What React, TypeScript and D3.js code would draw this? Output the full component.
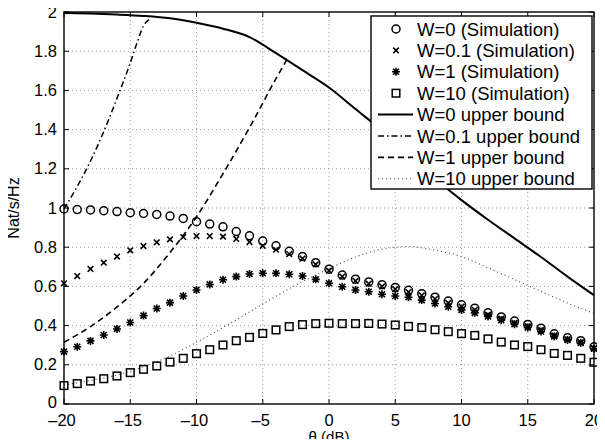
import React, { useEffect, useRef } from 'react';
import * as d3 from 'd3';

// simulation points, one per dB step
const theta = [-20, -19, -18, -17, -16, -15, -14, -13, -12, -11, -10, -9, -8, -7, -6, -5, -4, -3, -2, -1, 0,
  1, 2, 3, 4, 5, 6, 7, 8, 9, 10, 11, 12, 13, 14, 15, 16, 17, 18, 19, 20];

const simW0 = [0.995, 0.992, 0.99, 0.986, 0.982, 0.976, 0.972, 0.967, 0.959, 0.947, 0.93, 0.918, 0.904, 0.88,
  0.858, 0.831, 0.807, 0.779, 0.752, 0.721, 0.688, 0.658, 0.637, 0.623, 0.609, 0.595, 0.58, 0.563, 0.545,
  0.525, 0.506, 0.489, 0.465, 0.444, 0.423, 0.406, 0.387, 0.358, 0.338, 0.323, 0.292];
const simW01 = [0.616, 0.653, 0.689, 0.721, 0.752, 0.784, 0.806, 0.825, 0.84, 0.852, 0.857, 0.857, 0.854,
  0.842, 0.826, 0.807, 0.787, 0.765, 0.742, 0.712, 0.68, 0.65, 0.628, 0.614, 0.6, 0.586, 0.571, 0.554, 0.536,
  0.516, 0.497, 0.48, 0.456, 0.435, 0.414, 0.397, 0.378, 0.35, 0.33, 0.315, 0.285];
const simW1 = [0.267, 0.292, 0.322, 0.352, 0.383, 0.416, 0.451, 0.487, 0.517, 0.551, 0.582, 0.61, 0.634, 0.65,
  0.663, 0.667, 0.667, 0.662, 0.653, 0.636, 0.616, 0.598, 0.582, 0.573, 0.56, 0.551, 0.545, 0.53, 0.513, 0.496,
  0.48, 0.465, 0.447, 0.427, 0.407, 0.39, 0.37, 0.345, 0.327, 0.312, 0.282];
const simW10 = [0.094, 0.104, 0.117, 0.129, 0.143, 0.16, 0.177, 0.194, 0.214, 0.233, 0.257, 0.277, 0.301, 0.323,
  0.34, 0.36, 0.378, 0.395, 0.405, 0.41, 0.412, 0.41, 0.41, 0.411, 0.408, 0.403, 0.396, 0.39, 0.379, 0.369,
  0.359, 0.35, 0.332, 0.316, 0.301, 0.293, 0.277, 0.258, 0.248, 0.233, 0.213];

// upper bound curves
const boundX = [-20, -18, -16, -14, -12, -10, -8, -6, -4, -2, 0, 2, 4, 6, 8, 10, 12, 14, 16, 18, 20];
const boundW0 = [1.995, 1.992, 1.987, 1.98, 1.968, 1.945, 1.915, 1.872, 1.79, 1.703, 1.615, 1.505, 1.395,
  1.275, 1.15, 1.04, 0.94, 0.845, 0.75, 0.65, 0.555];
const boundW10 = [0.097, 0.12, 0.148, 0.19, 0.245, 0.315, 0.39, 0.47, 0.55, 0.625, 0.69, 0.75, 0.79, 0.803,
  0.785, 0.752, 0.695, 0.635, 0.575, 0.515, 0.462];
const boundW01X = [-20, -19, -18, -17, -16, -15, -14.5, -14, -13.6, -13.5];
const boundW01 = [0.995, 1.11, 1.24, 1.39, 1.56, 1.74, 1.84, 1.93, 1.96, 1.965];
const boundW1X = [-20, -18, -16, -14, -12, -10, -8, -6, -4, -3.2];
const boundW1 = [0.315, 0.395, 0.495, 0.615, 0.773, 0.955, 1.175, 1.41, 1.66, 1.755];

const xTicks = [-20, -15, -10, -5, 0, 5, 10, 15, 20];
const yTicks = [0, 0.2, 0.4, 0.6, 0.8, 1, 1.2, 1.4, 1.6, 1.8, 2];

const legendLabels = ['W=0 (Simulation)', 'W=0.1 (Simulation)', 'W=1 (Simulation)', 'W=10 (Simulation)',
  'W=0 upper bound', 'W=0.1 upper bound', 'W=1 upper bound', 'W=10 upper bound'];

const FONT = '"Liberation Sans", Arial, Helvetica, sans-serif';

const drawMarker = (g, type, cx, cy) => {
  if (type === 'circle') {
    g.append('circle').attr('cx', cx).attr('cy', cy).attr('r', 4)
      .attr('fill', 'none').attr('stroke', '#000').attr('stroke-width', 1.5);
  } else if (type === 'cross') {
    g.append('path').attr('d', `M${cx - 2.8},${cy - 2.8}L${cx + 2.8},${cy + 2.8}M${cx - 2.8},${cy + 2.8}L${cx + 2.8},${cy - 2.8}`)
      .attr('stroke', '#000').attr('stroke-width', 1.6);
  } else if (type === 'star') {
    g.append('path').attr('d', `M${cx - 4},${cy}L${cx + 4},${cy}M${cx},${cy - 4}L${cx},${cy + 4}M${cx - 3},${cy - 3}L${cx + 3},${cy + 3}M${cx - 3},${cy + 3}L${cx + 3},${cy - 3}`)
      .attr('stroke', '#000').attr('stroke-width', 1.6);
  } else {
    g.append('rect').attr('x', cx - 3.8).attr('y', cy - 3.8).attr('width', 7.6).attr('height', 7.6)
      .attr('fill', 'none').attr('stroke', '#000').attr('stroke-width', 1.5);
  }
};

const Chart = () => {
  const svgRef = useRef(null);

  useEffect(() => {
    const svg = d3.select(svgRef.current);
    svg.selectAll('*').remove();

    const left = 64, right = 594, top = 12, bottom = 404;
    const x = d3.scaleLinear().domain([-20, 20]).range([left, right]);
    const y = d3.scaleLinear().domain([0, 2]).range([bottom, top]);

    svg.append('rect').attr('width', 605).attr('height', 447).attr('fill', '#fff');

    // grid
    const grid = svg.append('g').attr('stroke', '#9a9a9a').attr('stroke-width', 1).attr('stroke-dasharray', '1,3');
    xTicks.slice(1, -1).forEach((t) => {
      grid.append('line').attr('x1', x(t)).attr('x2', x(t)).attr('y1', top).attr('y2', bottom);
    });
    yTicks.slice(1, -1).forEach((t) => {
      grid.append('line').attr('x1', left).attr('x2', right).attr('y1', y(t)).attr('y2', y(t));
    });

    // ticks inside on all four sides
    const ticks = svg.append('g').attr('stroke', '#000').attr('stroke-width', 1);
    xTicks.forEach((t) => {
      ticks.append('line').attr('x1', x(t)).attr('x2', x(t)).attr('y1', bottom).attr('y2', bottom - 5);
      ticks.append('line').attr('x1', x(t)).attr('x2', x(t)).attr('y1', top).attr('y2', top + 5);
    });
    yTicks.forEach((t) => {
      ticks.append('line').attr('x1', left).attr('x2', left + 5).attr('y1', y(t)).attr('y2', y(t));
      ticks.append('line').attr('x1', right).attr('x2', right - 5).attr('y1', y(t)).attr('y2', y(t));
    });

    // tick labels
    svg.append('g').selectAll('text').data(xTicks).enter().append('text')
      .attr('x', (d) => x(d) - (d < 0 ? 2 : 0)).attr('y', bottom + 22)
      .attr('text-anchor', 'middle').attr('font-family', FONT).attr('font-size', 16.5)
      .text((d) => (d < 0 ? `\u2013${-d}` : `${d}`));
    svg.append('g').selectAll('text').data(yTicks).enter().append('text')
      .attr('x', left - 7).attr('y', (d) => y(d)).attr('dy', (d) => (d === 0 ? '0.22em' : '0.34em'))
      .attr('text-anchor', 'end').attr('font-family', FONT).attr('font-size', 16.5)
      .text((d) => d3.format('~g')(d));

    // axis labels
    svg.append('text').attr('x', x(0)).attr('y', 442).attr('text-anchor', 'middle')
      .attr('font-family', FONT).attr('font-size', 15).text('\u03b8 (dB)');
    svg.append('text').attr('transform', `translate(19,${(top + bottom) / 2}) rotate(-90)`)
      .attr('text-anchor', 'middle').attr('font-family', FONT).attr('font-size', 16).text('Nat/s/Hz');

    const plot = svg.append('g');
    const line = (xs) => d3.line().x((d, i) => x(xs[i])).y((d) => y(d)).curve(d3.curveMonotoneX);

    const styles = [
      { dash: null, width: 2 },
      { dash: '6,3,1.5,3', width: 1.5 },
      { dash: '6,4', width: 1.6 },
      { dash: '1,3', width: 1.1 },
    ];
    const bounds = [[boundX, boundW0], [boundW01X, boundW01], [boundW1X, boundW1], [boundX, boundW10]];
    bounds.forEach(([xs, ys], i) => {
      plot.append('path').attr('d', line(xs)(ys)).attr('fill', 'none')
        .attr('stroke', i === 3 ? '#444' : '#000').attr('stroke-width', styles[i].width)
        .attr('stroke-dasharray', styles[i].dash);
    });

    const sims = [[simW0, 'circle'], [simW01, 'cross'], [simW1, 'star'], [simW10, 'square']];
    sims.forEach(([vals, type]) => {
      vals.forEach((v, i) => drawMarker(plot, type, x(theta[i]), y(v)));
    });

    // axes box
    svg.append('rect').attr('x', left).attr('y', top).attr('width', right - left).attr('height', bottom - top)
      .attr('fill', 'none').attr('stroke', '#000').attr('stroke-width', 1.4);

    // legend
    const lg = svg.append('g');
    lg.append('rect').attr('x', 371).attr('y', 16).attr('width', 221).attr('height', 173)
      .attr('fill', '#fff').attr('stroke', '#000').attr('stroke-width', 1.4);
    legendLabels.forEach((label, i) => {
      const cy = 29 + i * 21.4;
      if (i < 4) {
        drawMarker(lg, sims[i][1], 396, cy);
      } else {
        const s = styles[i - 4];
        lg.append('line').attr('x1', 378).attr('x2', 413).attr('y1', cy).attr('y2', cy)
          .attr('stroke', i === 7 ? '#444' : '#000').attr('stroke-width', s.width)
          .attr('stroke-dasharray', s.dash);
      }
      lg.append('text').attr('x', 417).attr('y', cy).attr('dy', '0.36em')
        .attr('font-family', FONT).attr('font-size', 18.5).text(label);
    });
  }, []);

  return <svg ref={svgRef} width={605} height={447} style={{ display: 'block' }}></svg>;
};

export default function App() {
  return (
    <div style={{ margin: -8 }}>
      <Chart />
    </div>
  );
}
